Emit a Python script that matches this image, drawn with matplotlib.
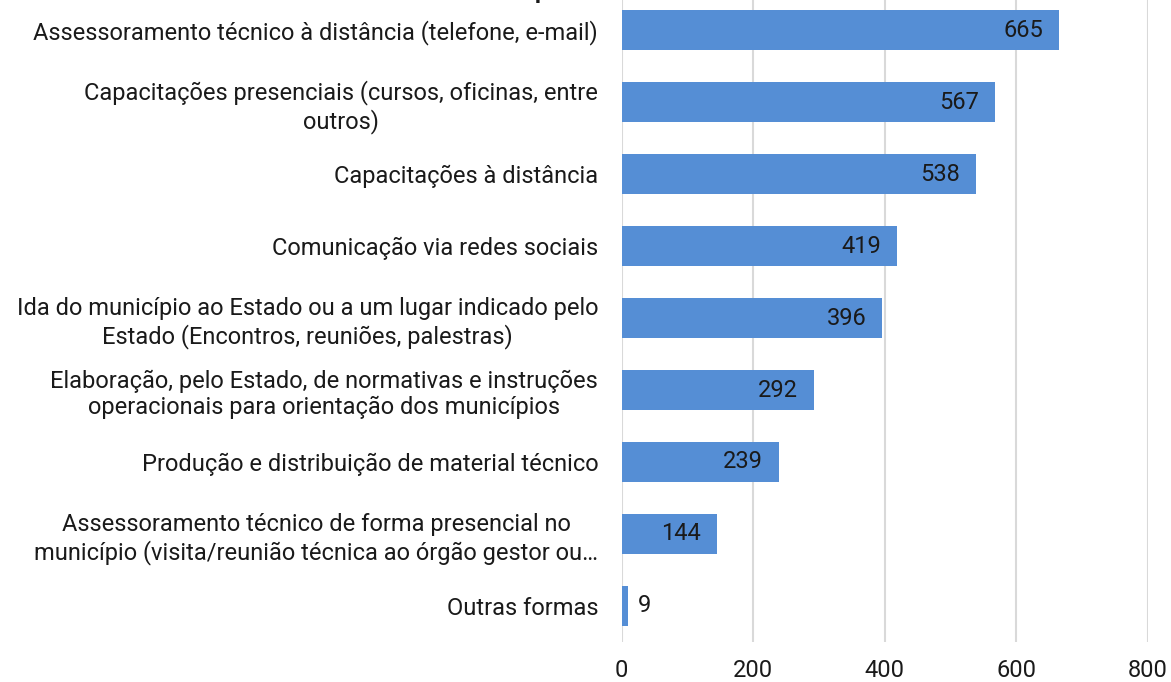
import numpy as np
import matplotlib.pyplot as plt

plt.rcParams['font.family'] = ['Roboto', 'DejaVu Sans']

categorias = [
    "Assessoramento técnico à distância (telefone, e-mail)",
    "Capacitações presenciais (cursos, oficinas, entre\noutros)",
    "Capacitações à distância",
    "Comunicação via redes sociais",
    "Ida do município ao Estado ou a um lugar indicado pelo\nEstado (Encontros, reuniões, palestras)",
    "Elaboração, pelo Estado, de normativas e instruções\noperacionais para orientação dos municípios",
    "Produção e distribuição de material técnico",
    "Assessoramento técnico de forma presencial no\nmunicípio (visita/reunião técnica ao órgão gestor ou…",
    "Outras formas",
]
valores = [665, 567, 538, 419, 396, 292, 239, 144, 9]
xticks = [0, 200, 400, 600, 800]

# de baixo para cima
cats = categorias[::-1]
vals = valores[::-1]
y = np.arange(len(cats))

fs = 17

fig = plt.figure(figsize=(11.71, 6.82), dpi=100)
ax = fig.add_axes([0.531, 0.0587, 0.4493, 0.950])

ax.barh(y, vals, height=0.55, color='#558ED5', zorder=3)
ax.set_xlim(0, 800)
ax.set_ylim(-0.5, len(cats) - 0.5)
ax.set_xticks(xticks)
ax.set_yticks(y)
ax.set_yticklabels(cats, fontsize=fs, color='#1a1a1a', multialignment='center')
ax.tick_params(axis='x', labelsize=fs, colors='#1a1a1a', length=0, pad=12)
ax.tick_params(axis='y', length=0, pad=17)
ax.grid(axis='x', color='#D9D9D9', linewidth=1.5, zorder=0)
for s in ax.spines.values():
    s.set_visible(False)

for yi, v in zip(y, vals):
    if v > 60:
        ax.text(v - 24, yi, str(v), ha='right', va='center', fontsize=fs, color='#1a1a1a', zorder=4)
    else:
        ax.text(v + 16, yi, str(v), ha='left', va='center', fontsize=fs, color='#1a1a1a', zorder=4)

# titulo cortado no topo da imagem
fig.text(597 / 1171, 1.0 - 3 / 682, "pelo Estado", ha='center', va='bottom',
         fontsize=17, fontweight='bold', color='#1a1a1a')

fig.savefig('out.png', dpi=100)
